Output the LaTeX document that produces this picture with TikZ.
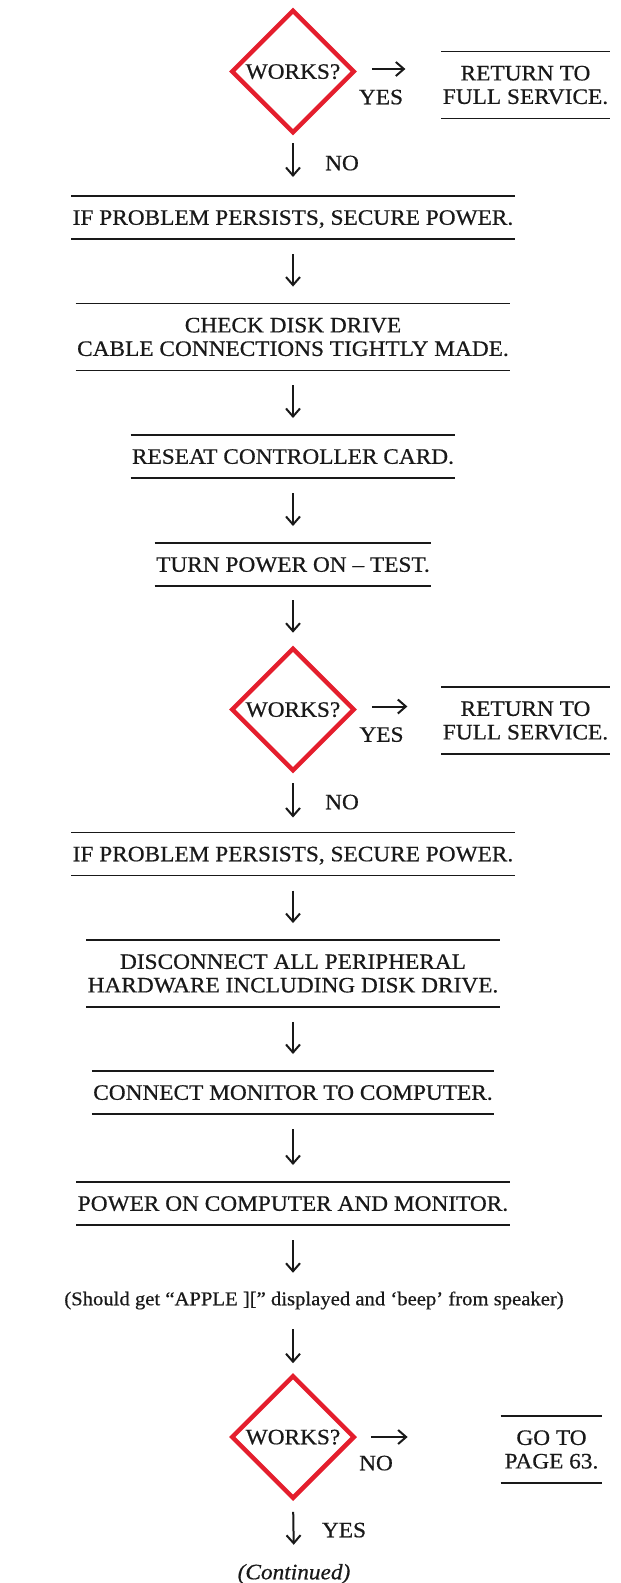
\documentclass[tikz,border=0pt]{standalone}
\usepackage{fontspec}
\setmainfont{Liberation Serif}[FakeStretch=1.06,FakeBold=0.6]
\usetikzlibrary{shapes.geometric,arrows.meta}
\definecolor{dred}{RGB}{228,30,45}
\definecolor{ink}{RGB}{25,25,25}
\begin{document}
\begin{tikzpicture}[x=1pt,y=-1pt,
  every node/.style={font=\fontsize{22}{23.5}\selectfont, inner sep=0pt, outer sep=0pt, text=ink},
  rule/.style={line width=1.5pt, draw=ink},
  stepbox/.style={inner xsep=1.5pt, inner ysep=14.25pt, align=center,
     append after command={(\tikzlastnode.north west) edge[rule] (\tikzlastnode.north east)
                           (\tikzlastnode.south west) edge[rule] (\tikzlastnode.south east)}},
  one/.style={text height=14.5pt, text depth=0pt},
  decision/.style={diamond, draw=dred, line width=4.5pt, minimum width=121.6pt,
     minimum height=121.6pt, shape aspect=1, text height=14.5pt, text depth=0pt},
  arr/.style={line width=2pt, draw=ink, -{Straight Barb[length=8pt,width=14pt]}},
  lbl/.style={text height=14.5pt, text depth=0pt},
  gapbox/.style={shorten <=15pt, shorten >=17pt},
]
\useasboundingbox (0,0) rectangle (621,1583);

% ---- first decision ----
\node[decision] (D1) at (293,71.5) {WORKS?};
\node[stepbox] (R1) at (525.5,85) {RETURN TO\\FULL SERVICE.};
\node[lbl] (Y1) at (381,97) {YES};
\node[lbl] (N1) at (342,163) {NO};

\node[stepbox,one] (B1) at (293,217.5) {IF PROBLEM PERSISTS, SECURE POWER.};
\node[stepbox] (B2) at (293,337) {CHECK DISK DRIVE\\CABLE CONNECTIONS TIGHTLY MADE.};
\node[stepbox,one] (B3) at (293,456.5) {RESEAT CONTROLLER CARD.};
\node[stepbox,one] (B4) at (293,564.5) {TURN POWER ON -- TEST.};

% ---- second decision ----
\node[decision] (D2) at (293,709.5) {WORKS?};
\node[stepbox] (R2) at (525.5,720.5) {RETURN TO\\FULL SERVICE.};
\node[lbl] (Y2) at (381.5,734.5) {YES};
\node[lbl] (N2) at (342,802) {NO};

\node[stepbox,one] (B5) at (293,854) {IF PROBLEM PERSISTS, SECURE POWER.};
\node[stepbox] (B6) at (293,973.5) {DISCONNECT ALL PERIPHERAL\\HARDWARE INCLUDING DISK DRIVE.};
\node[stepbox,one] (B7) at (293,1092.5) {CONNECT MONITOR TO COMPUTER.};
\node[stepbox,one] (B8) at (293,1203.5) {POWER ON COMPUTER AND MONITOR.};

\node[lbl,font=\fontsize{19.5}{21}\selectfont] (T1) at (314,1298)
  {(Should get “APPLE ][” displayed and ‘beep’ from speaker)};

% ---- third decision ----
\node[decision] (D3) at (293,1437) {WORKS?};
\node[stepbox,inner xsep=4pt] (G1) at (551.5,1449.5) {GO TO\\PAGE 63.};
\node[lbl] (N3) at (376,1463) {NO};
\node[lbl] (Y3) at (344,1530) {YES};
\node[lbl,font=\fontsize{22}{23.5}\selectfont\itshape] (C1) at (294,1572) {(Continued)};

% ---- connectors ----
\draw[arr, shorten <=18pt, shorten >=36pt] ([yshift=2.5pt]D1.east) -- ([yshift=2.5pt]D1.east -| R1.west);
\draw[arr, shorten <=11pt, shorten >=19pt] (D1.south) -- (B1.north);
\draw[arr, gapbox] (B1.south) -- (B2.north);
\draw[arr, gapbox] (B2.south) -- (B3.north);
\draw[arr, gapbox] (B3.south) -- (B4.north);
\draw[arr, shorten <=14pt, shorten >=16pt] (B4.south) -- (D2.north);

\draw[arr, shorten <=18pt, shorten >=34pt] ([yshift=3pt]D2.east) -- ([yshift=3pt]D2.east -| R2.west);
\draw[arr, shorten <=13pt, shorten >=15pt] (D2.south) -- (B5.north);
\draw[arr, gapbox] (B5.south) -- (B6.north);
\draw[arr, gapbox] (B6.south) -- (B7.north);
\draw[arr, gapbox] (B7.south) -- (B8.north);
\draw[arr, shorten <=15pt, shorten >=18pt] (B8.south) -- (B8.south |- T1.north);
\draw[arr, shorten <=24pt, shorten >=13pt] (T1.south -| D3.north) -- (D3.north);

\draw[arr, shorten <=17pt, shorten >=93pt] (D3.east) -- (D3.east -| G1.west);
\draw[arr, shorten <=14pt, shorten >=20pt] (D3.south) -- (C1.north);
\end{tikzpicture}
\end{document}
